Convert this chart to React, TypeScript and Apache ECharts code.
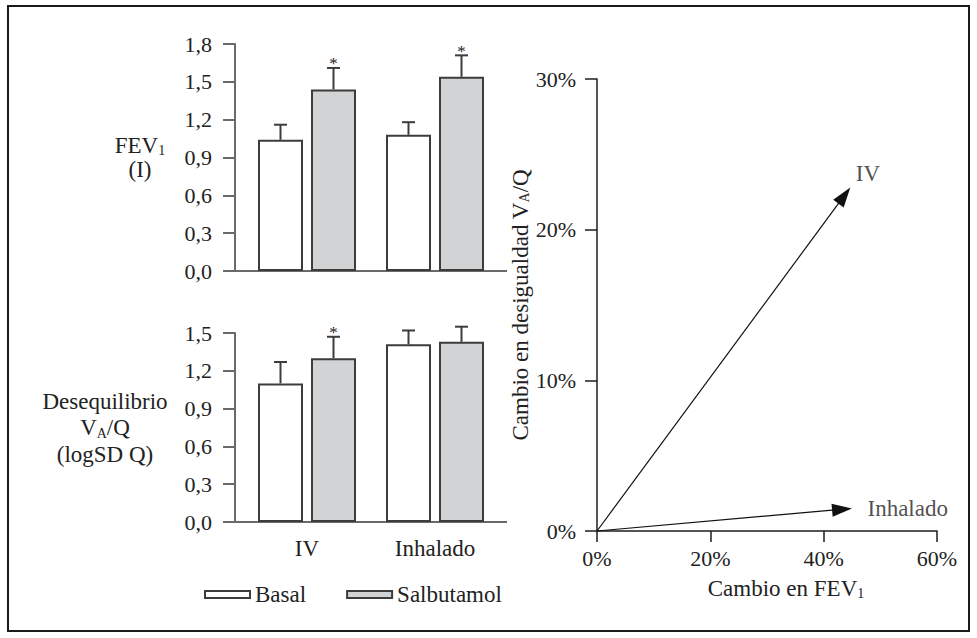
import React, { useEffect, useRef } from 'react';
import * as echarts from 'echarts';

// ---------- data ----------
const categories = ['IV', 'Inhalado'];
const seriesNames = ['Basal', 'Salbutamol'];

const fevBasal = [1.04, 1.08];
const fevBasalUpper = [1.16, 1.18];
const fevSalb = [1.44, 1.54];
const fevSalbUpper = [1.61, 1.71];
const fevBasalStar = [false, false];
const fevSalbStar = [true, true];

const vqBasal = [1.1, 1.41];
const vqBasalUpper = [1.27, 1.52];
const vqSalb = [1.3, 1.43];
const vqSalbUpper = [1.47, 1.55];
const vqBasalStar = [false, false];
const vqSalbStar = [true, false];

const arrowNames = ['IV', 'Inhalado'];
const arrowFevChange = [44.7, 45.0];
const arrowVqChange = [22.8, 1.5];

// ---------- style / layout ----------
const FONT = "'Liberation Serif', 'Times New Roman', serif";
const TXT = '#222222';
const AX = '#6a6a6a';
const EDGE = '#3c3c3c';
const FILL_B = '#ffffff';
const FILL_S = '#d1d3d4';
const BAR_W = 45;
const BAR_GAP = 8;
const FS = 23;
const FS_NUM = 22;
const Y_OFF = 8;
const TICK = 12;

const G0 = { left: 243, top: 44, width: 256, height: 227 };
const G1 = { left: 243, top: 333, width: 256, height: 189 };
const G2 = { left: 597, top: 79, width: 340, height: 452 };

const comma = (v: number) => v.toFixed(1).replace('.', ',');

const subRich = {
  sub: { fontSize: 14, fontFamily: FONT, color: TXT, verticalAlign: 'bottom', lineHeight: 12 },
};

function errSeries(idx: number, lows: number[], highs: number[], stars: boolean[], side: number) {
  return {
    type: 'custom',
    xAxisIndex: idx,
    yAxisIndex: idx,
    z: 5,
    silent: true,
    data: categories.map((_, i) => [i, lows[i], highs[i], stars[i] ? 1 : 0]),
    encode: { x: 0, y: [1, 2] },
    renderItem: (_params: any, api: any) => {
      const off = (side * (BAR_W + BAR_GAP)) / 2;
      const base = api.coord([api.value(0), api.value(1)]);
      const top = api.coord([api.value(0), api.value(2)]);
      const x = base[0] + off;
      const st = { stroke: EDGE, lineWidth: 2 };
      const children: any[] = [
        { type: 'line', shape: { x1: x, y1: base[1], x2: x, y2: top[1] }, style: st },
        { type: 'line', shape: { x1: x - 6.5, y1: top[1], x2: x + 6.5, y2: top[1] }, style: st },
      ];
      if (api.value(3)) {
        children.push({
          type: 'text',
          style: {
            text: '*',
            x,
            y: top[1] - 4,
            align: 'center',
            verticalAlign: 'middle',
            textAlign: 'center',
            textVerticalAlign: 'middle',
            fontSize: 17,
            fontFamily: FONT,
            fill: TXT,
          },
        });
      }
      return { type: 'group', children };
    },
  };
}

function barSeries(idx: number, name: string, values: number[], fill: string) {
  return {
    type: 'bar',
    name,
    xAxisIndex: idx,
    yAxisIndex: idx,
    data: values,
    barWidth: BAR_W,
    barGap: `${(BAR_GAP / BAR_W) * 100}%`,
    itemStyle: { color: fill, borderColor: EDGE, borderWidth: 2 },
    silent: true,
  };
}

const leftYAxis = (idx: number, max: number, name: string, gap: number, lh: number) => ({
  type: 'value',
  gridIndex: idx,
  min: 0,
  max,
  interval: 0.3,
  offset: Y_OFF,
  axisLine: { show: true, lineStyle: { color: AX, width: 2 } },
  axisTick: { show: true, length: TICK, lineStyle: { color: AX, width: 2 } },
  axisLabel: { formatter: comma, margin: 23, fontSize: FS_NUM, fontFamily: FONT, color: TXT },
  splitLine: { show: false },
  name,
  nameLocation: 'middle',
  nameRotate: 0,
  nameGap: gap,
  nameTextStyle: {
    align: 'center',
    verticalAlign: 'middle',
    fontSize: FS,
    fontFamily: FONT,
    color: TXT,
    lineHeight: lh,
    rich: subRich,
  },
});

export default function App() {
  const ref = useRef<HTMLDivElement>(null);

  useEffect(() => {
    if (!ref.current) return;
    const chart = echarts.init(ref.current, undefined, { renderer: 'svg' });

    const base0 = G0.top + G0.height;
    const base1 = G1.top + G1.height;
    const lx = G0.left - Y_OFF - TICK;
    const rx = G0.left + G0.width + Y_OFF;

    const option: any = {
      animation: false,
      textStyle: { fontFamily: FONT },
      grid: [
        { ...G0, containLabel: false },
        { ...G1, containLabel: false },
        { ...G2, containLabel: false },
      ],
      legend: {
        data: seriesNames,
        left: 199,
        top: 578,
        itemWidth: 45,
        itemHeight: 7,
        itemGap: 40,
        icon: 'rect',
        selectedMode: false,
        textStyle: { fontSize: FS, fontFamily: FONT, color: TXT },
      },
      xAxis: [
        {
          type: 'category',
          gridIndex: 0,
          data: categories,
          axisLine: { show: false },
          axisTick: { show: false },
          axisLabel: { show: false },
        },
        {
          type: 'category',
          gridIndex: 1,
          data: categories,
          axisLine: { show: false },
          axisTick: { show: false },
          axisLabel: { show: true, margin: 15, fontSize: FS, fontFamily: FONT, color: TXT },
        },
        {
          type: 'value',
          gridIndex: 2,
          min: 0,
          max: 60,
          interval: 20,
          axisLine: { show: true, lineStyle: { color: '#1e1e1e', width: 1.5 } },
          axisTick: { show: true, length: 11, lineStyle: { color: '#1e1e1e', width: 1.5 } },
          axisLabel: { formatter: '{value}%', margin: 16, fontSize: FS_NUM, fontFamily: FONT, color: TXT },
          splitLine: { show: false },
          name: 'Cambio en FEV{sub|1}',
          nameLocation: 'middle',
          nameGap: 46,
          nameTextStyle: {
            fontSize: FS,
            fontFamily: FONT,
            color: TXT,
            lineHeight: 23,
            padding: [0, 0, 0, 38],
            rich: subRich,
          },
        },
      ],
      yAxis: [
        leftYAxis(0, 1.8, 'FEV{sub|1}\n(I)', 95, 24),
        leftYAxis(1, 1.5, 'Desequilibrio\nV{sub|A}/Q\n(logSD Q)', 130, 26.5),
        {
          type: 'value',
          gridIndex: 2,
          min: 0,
          max: 30,
          interval: 10,
          axisLine: { show: true, lineStyle: { color: '#1e1e1e', width: 1.5 } },
          axisTick: { show: true, length: 12, lineStyle: { color: '#1e1e1e', width: 1.5 } },
          axisLabel: { formatter: '{value}%', margin: 21, fontSize: FS_NUM, fontFamily: FONT, color: TXT },
          splitLine: { show: false },
          name: 'Cambio en desigualdad V{sub|A}/Q',
          nameLocation: 'middle',
          nameGap: 76,
          nameTextStyle: {
            align: 'center',
            verticalAlign: 'middle',
            fontSize: FS,
            fontFamily: FONT,
            color: TXT,
            lineHeight: 23,
            rich: subRich,
          },
        },
      ],
      series: [
        barSeries(0, seriesNames[0], fevBasal, FILL_B),
        barSeries(0, seriesNames[1], fevSalb, FILL_S),
        barSeries(1, seriesNames[0], vqBasal, FILL_B),
        barSeries(1, seriesNames[1], vqSalb, FILL_S),
        errSeries(0, fevBasal, fevBasalUpper, fevBasalStar, -1),
        errSeries(0, fevSalb, fevSalbUpper, fevSalbStar, 1),
        errSeries(1, vqBasal, vqBasalUpper, vqBasalStar, -1),
        errSeries(1, vqSalb, vqSalbUpper, vqSalbStar, 1),
        {
          type: 'custom',
          xAxisIndex: 2,
          yAxisIndex: 2,
          silent: true,
          clip: false,
          z: 4,
          data: arrowNames.map((_, i) => [arrowFevChange[i], arrowVqChange[i]]),
          encode: { x: 0, y: 1 },
          renderItem: (_params: any, api: any) => {
            const p0 = api.coord([0, 0]);
            const p1 = api.coord([api.value(0), api.value(1)]);
            const dx = p1[0] - p0[0];
            const dy = p1[1] - p0[1];
            const L = Math.hypot(dx, dy) || 1;
            const ux = dx / L;
            const uy = dy / L;
            const px = -uy;
            const py = ux;
            const HL = 20;
            const HW = 6.5;
            const bx = p1[0] - ux * HL;
            const by = p1[1] - uy * HL;
            return {
              type: 'group',
              children: [
                {
                  type: 'line',
                  shape: { x1: p0[0], y1: p0[1], x2: bx + ux * 3, y2: by + uy * 3 },
                  style: { stroke: '#111111', lineWidth: 1.2 },
                },
                {
                  type: 'polygon',
                  shape: {
                    points: [
                      [p1[0], p1[1]],
                      [bx + px * HW, by + py * HW],
                      [bx - px * HW, by - py * HW],
                    ],
                  },
                  style: { fill: '#111111', stroke: 'none' },
                },
              ],
            };
          },
        },
        {
          type: 'scatter',
          xAxisIndex: 2,
          yAxisIndex: 2,
          symbolSize: 1,
          itemStyle: { color: 'rgba(0,0,0,0)' },
          silent: true,
          data: arrowNames.map((n, i) => ({
            name: n,
            value: [arrowFevChange[i], arrowVqChange[i]],
            label:
              i === 0
                ? { position: 'right', distance: 5, offset: [0, -14] }
                : { position: 'right', distance: 15, offset: [0, 0] },
          })),
          label: {
            show: true,
            formatter: '{b}',
            fontSize: FS,
            fontFamily: FONT,
            color: TXT,
          },
        },
      ],
      graphic: [
        {
          type: 'rect',
          silent: true,
          shape: { x: 8, y: 6, width: 961, height: 625 },
          style: { fill: 'none', stroke: '#1a1a1a', lineWidth: 2 },
        },
        {
          type: 'line',
          silent: true,
          shape: { x1: lx, y1: base0, x2: rx, y2: base0 },
          style: { stroke: AX, lineWidth: 2 },
        },
        {
          type: 'line',
          silent: true,
          shape: { x1: lx, y1: base1, x2: rx, y2: base1 },
          style: { stroke: AX, lineWidth: 2 },
        },
      ],
    };

    chart.setOption(option);
    return () => chart.dispose();
  }, []);

  return (
    <div
      ref={ref}
      style={{ position: 'fixed', left: 0, top: 0, width: 977, height: 638, background: '#ffffff' }}
    />
  );
}
